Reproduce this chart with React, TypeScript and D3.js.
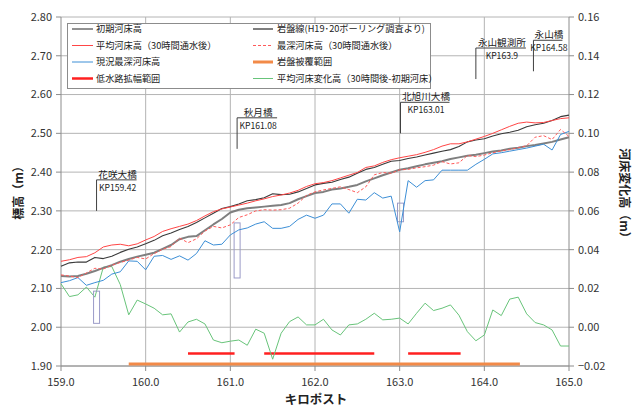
import * as d3 from 'd3';

// kilo posts, every 100 m
const kp = d3.range(0, 61).map((i) => Math.round((159 + i * 0.1) * 10) / 10);

// 初期河床高
const initialBed = [
  2.157, 2.166, 2.168, 2.168, 2.18, 2.177, 2.183, 2.193, 2.201, 2.207,
  2.215, 2.224, 2.236, 2.243, 2.252, 2.26, 2.27, 2.282, 2.294, 2.306,
  2.311, 2.318, 2.326, 2.329, 2.334, 2.344, 2.342, 2.343, 2.349, 2.358,
  2.367, 2.371, 2.374, 2.381, 2.387, 2.397, 2.407, 2.412, 2.42, 2.428,
  2.43, 2.435, 2.439, 2.444, 2.449, 2.454, 2.458, 2.466, 2.478, 2.483,
  2.486, 2.493, 2.499, 2.503, 2.508, 2.517, 2.522, 2.526, 2.533, 2.543,
  2.547,
];
// 平均河床高（30時間通水後）
const meanBed = [
  2.17, 2.174, 2.18, 2.182, 2.192, 2.207, 2.212, 2.214, 2.21, 2.215,
  2.225, 2.234, 2.247, 2.254, 2.26, 2.266, 2.275, 2.287, 2.298, 2.305,
  2.31, 2.315, 2.32, 2.326, 2.331, 2.337, 2.341, 2.346, 2.353, 2.363,
  2.37, 2.373, 2.378, 2.385, 2.392, 2.399, 2.412, 2.416, 2.425, 2.432,
  2.437, 2.441, 2.445, 2.451, 2.458, 2.467, 2.473, 2.473, 2.478, 2.485,
  2.492, 2.5, 2.509, 2.518, 2.526, 2.529, 2.527, 2.528, 2.533, 2.538,
  2.54,
];
// 岩盤線
const bedrock = [
  2.132, 2.131, 2.132, 2.138, 2.145, 2.153, 2.16, 2.169, 2.176, 2.182,
  2.187, 2.192, 2.202, 2.212, 2.227, 2.233, 2.235, 2.25, 2.265, 2.279,
  2.296, 2.303, 2.307, 2.309, 2.311, 2.313, 2.315, 2.32, 2.33, 2.338,
  2.346, 2.349, 2.355, 2.358, 2.362, 2.367, 2.376, 2.384, 2.392, 2.399,
  2.406, 2.41, 2.415, 2.42, 2.424, 2.428, 2.434, 2.438, 2.442, 2.445,
  2.449, 2.453, 2.456, 2.46, 2.463, 2.467, 2.47, 2.474, 2.478, 2.484,
  2.49,
];
// 最深河床高（30時間通水後）
const deepestBed = [
  2.135, 2.132, 2.128, 2.14, 2.152, 2.15, 2.16, 2.167, 2.173, 2.18,
  2.176, 2.19, 2.201, 2.208, 2.23, 2.218, 2.228, 2.248, 2.26, 2.256,
  2.264, 2.283, 2.29, 2.3, 2.303, 2.302, 2.303, 2.307, 2.32, 2.34,
  2.349, 2.354, 2.358, 2.362, 2.355, 2.347, 2.362, 2.393, 2.399, 2.397,
  2.406, 2.407, 2.411, 2.414, 2.418, 2.427, 2.421, 2.424, 2.443, 2.44,
  2.444, 2.45, 2.455, 2.458, 2.463, 2.468, 2.49, 2.494, 2.484, 2.51,
  2.492,
];
// 現況最深河床高
const currentDeepest = [
  2.115, 2.12, 2.128, 2.108, 2.115, 2.121, 2.137, 2.143, 2.171, 2.17,
  2.148, 2.183, 2.185, 2.175, 2.184, 2.173, 2.19, 2.223, 2.212, 2.214,
  2.238, 2.251, 2.256, 2.266, 2.272, 2.255, 2.255, 2.26, 2.278, 2.289,
  2.281, 2.289, 2.318, 2.318, 2.294, 2.33, 2.328, 2.347, 2.333, 2.338,
  2.246, 2.378, 2.361, 2.378, 2.38, 2.405, 2.405, 2.405, 2.405, 2.42,
  2.433, 2.447, 2.45, 2.454, 2.458, 2.462, 2.467, 2.472, 2.457, 2.497,
  2.505,
];
// 平均河床変化高（30時間後-初期河床）  right axis
const bedChange = [
  0.0224, 0.0158, 0.0167, 0.0207, 0.0155, 0.031, 0.0313, 0.022, 0.0064, 0.014,
  0.012, 0.0098, 0.0064, 0.0069, -0.0025, 0.0027, 0.0041, 0.0017, -0.0066, -0.008,
  -0.0072, -0.0066, -0.0093, -0.001, -0.0031, -0.0165, -0.0031, 0.0029, 0.0053, 0.0012,
  0.0012, 0.0041, -0.0014, -0.004, 0.0012, 0.0017, 0.0041, 0.0072, 0.0038, 0.0041,
  0.0047, 0.0017, 0.0072, 0.0124, 0.0086, 0.0098, 0.0115, 0.0062, -0.0023, -0.007,
  -0.004, 0.0089, 0.006, 0.0145, 0.0155, 0.0069, 0.0024, 0.0012, -0.0014, -0.0097,
  -0.0097,
];

// 低水路拡幅範囲 / 岩盤被覆範囲
const widenRanges = [[160.5, 161.05], [161.4, 162.7], [163.1, 163.72]];
const widenLevel = 1.932;
const coverRanges = [[159.8, 164.42]];
const coverLevel = 1.905;

// bridges / station
const siteNames = ['花咲大橋', '秋月橋', '北旭川大橋', '永山観測所', '永山橋'];
const siteKp = [159.42, 161.08, 163.01, 163.9, 164.58];
const siteKpLabels = ['KP159.42', 'KP161.08', 'KP163.01', 'KP163.9', 'KP164.58'];
const siteBase = [2.3, 2.46, 2.5, 2.64, 2.66];

// pier boxes
const pierKp = [159.42, 161.08, 163.01];
const pierTop = [2.093, 2.269, 2.32];
const pierBottom = [2.01, 2.127, 2.272];

const legendLeft = ['初期河床高', '平均河床高（30時間通水後）', '現況最深河床高', '低水路拡幅範囲'];
const legendRight = ['岩盤線(H19･20ボーリング調査より)', '最深河床高（30時間通水後）', '岩盤被覆範囲', '平均河床変化高（30時間後-初期河床）'];

const FONT = '"Noto Sans CJK JP", "Noto Sans", sans-serif';
const GRID = '#b4b4b4';
const AXIS = '#8c8c8c';

const sty = {
  initial: { stroke: '#3a3a3a', width: 1.1, dash: undefined as string | undefined },
  mean: { stroke: '#ff4646', width: 1, dash: undefined },
  current: { stroke: '#3d8fd6', width: 1, dash: undefined },
  widen: { stroke: '#ff2020', width: 2.5, dash: undefined },
  rock: { stroke: '#7f7f7f', width: 2, dash: undefined },
  deepest: { stroke: '#ff5a5a', width: 1, dash: '3,2' },
  cover: { stroke: '#f28a48', width: 3, dash: undefined },
  change: { stroke: '#68c47a', width: 1, dash: undefined },
};
const leftStyles = [sty.initial, sty.mean, sty.current, sty.widen];
const rightStyles = [sty.rock, sty.deepest, sty.cover, sty.change];
const leaderWidth = [40, 40, 49, 50, 29];

export default function App() {
  const x = d3.scaleLinear().domain([159, 165]).range([61, 569]);
  const yL = d3.scaleLinear().domain([1.9, 2.8]).range([366, 17]);
  const yR = d3.scaleLinear().domain([-0.02, 0.16]).range([366, 17]);

  const lineL = d3
    .line<number>()
    .x((_, i) => x(kp[i]))
    .y((d) => yL(d));
  const lineR = d3
    .line<number>()
    .x((_, i) => x(kp[i]))
    .y((d) => yR(d));

  const leftTicks = yL.ticks(9);
  const rightTicks = yR.ticks(9);
  const xTicks = x.ticks(6);
  const [x0, x1] = x.range();
  const [yB, yT] = yL.range();

  const seriesL = [
    { d: bedrock, s: sty.rock },
    { d: currentDeepest, s: sty.current },
    { d: deepestBed, s: sty.deepest },
    { d: initialBed, s: sty.initial },
    { d: meanBed, s: sty.mean },
  ];

  return (
    <svg
      width={636}
      height={408}
      style={{ position: 'absolute', left: 0, top: 0, background: '#fff' }}
      fontFamily={FONT}
    >
      {/* grid */}
      {leftTicks.map((t) => (
        <line key={'h' + t} x1={x0} x2={x1} y1={yL(t)} y2={yL(t)} stroke={GRID} />
      ))}
      {xTicks.slice(1, -1).map((t) => (
        <line key={'v' + t} x1={x(t)} x2={x(t)} y1={yT} y2={yB} stroke={GRID} />
      ))}

      {/* axes */}
      <line x1={x0} x2={x0} y1={yT} y2={yB} stroke={AXIS} />
      <line x1={x1} x2={x1} y1={yT} y2={yB} stroke={AXIS} />
      <line x1={x0} x2={x1} y1={yB} y2={yB} stroke={AXIS} />
      {leftTicks.map((t) => (
        <g key={'lt' + t}>
          <line x1={x0 - 5} x2={x0} y1={yL(t)} y2={yL(t)} stroke={AXIS} />
          <text x={x0 - 9} y={yL(t)} dy="0.35em" textAnchor="end" fontSize={11} fill="#333">
            {d3.format('.2f')(t)}
          </text>
        </g>
      ))}
      {rightTicks.map((t) => (
        <g key={'rt' + t}>
          <line x1={x1} x2={x1 + 5} y1={yR(t)} y2={yR(t)} stroke={AXIS} />
          <text x={x1 + 9} y={yR(t)} dy="0.35em" textAnchor="start" fontSize={11} fill="#333">
            {d3.format('.2f')(t)}
          </text>
        </g>
      ))}
      {xTicks.map((t) => (
        <g key={'xt' + t}>
          <line x1={x(t)} x2={x(t)} y1={yB} y2={yB + 5} stroke={AXIS} />
          <text x={x(t)} y={yB + 20} textAnchor="middle" fontSize={11} fill="#333">
            {d3.format('.1f')(t)}
          </text>
        </g>
      ))}

      {/* axis titles */}
      <text
        transform="translate(23,190) rotate(-90)"
        textAnchor="middle"
        fontSize={12}
        fontWeight="bold"
        fill="#222"
      >
        標高（m）
      </text>
      <text
        transform="translate(620,196) rotate(90)"
        textAnchor="middle"
        fontSize={12}
        fontWeight="bold"
        fill="#222"
      >
        河床変化高（m）
      </text>
      <text x={316} y={404} textAnchor="middle" fontSize={12.5} fontWeight="bold" fill="#222">
        キロポスト
      </text>

      {/* ranges */}
      {coverRanges.map(([a, b]) => (
        <line
          key={'c' + a}
          x1={x(a)}
          x2={x(b)}
          y1={yL(coverLevel)}
          y2={yL(coverLevel)}
          stroke={sty.cover.stroke}
          strokeWidth={sty.cover.width}
        />
      ))}
      {widenRanges.map(([a, b]) => (
        <line
          key={'w' + a}
          x1={x(a)}
          x2={x(b)}
          y1={yL(widenLevel)}
          y2={yL(widenLevel)}
          stroke={sty.widen.stroke}
          strokeWidth={sty.widen.width}
        />
      ))}

      {/* bed change (right axis) */}
      <path
        d={lineR(bedChange) || ''}
        fill="none"
        stroke={sty.change.stroke}
        strokeWidth={sty.change.width}
        strokeLinejoin="round"
      />

      {/* pier boxes */}
      {pierKp.map((k, i) => (
        <rect
          key={'p' + k}
          x={x(k) - 3}
          y={yL(pierTop[i])}
          width={6}
          height={yL(pierBottom[i]) - yL(pierTop[i])}
          fill="none"
          stroke="#9b9bc8"
          strokeWidth={1}
        />
      ))}

      {/* elevation lines */}
      {seriesL.map(({ d, s }, i) => (
        <path
          key={'s' + i}
          d={lineL(d) || ''}
          fill="none"
          stroke={s.stroke}
          strokeWidth={s.width}
          strokeDasharray={s.dash}
          strokeLinejoin="round"
        />
      ))}

      {/* site callouts */}
      {siteKp.map((k, i) => {
        const px = x(k);
        const yb = yL(siteBase[i]);
        const yt = yL(siteBase[i] + 0.08);
        const w = leaderWidth[i];
        return (
          <g key={'site' + i}>
            <line x1={px} x2={px} y1={yb} y2={yt} stroke="#404040" />
            <line x1={px} x2={px + w} y1={yt} y2={yt} stroke="#404040" />
            <text x={px + w / 2 + 1} y={yt - 2} textAnchor="middle" fontSize={9.6} fill="#222">
              {siteNames[i]}
            </text>
            <text x={px + w / 2 + 1} y={yt + 11} textAnchor="middle" fontSize={8.6} fill="#222">
              {siteKpLabels[i]}
            </text>
          </g>
        );
      })}

      {/* legend */}
      <rect x={67.5} y={23.5} width={363} height={65} fill="#fff" stroke="#8c8c8c" />
      {legendLeft.map((t, i) => {
        const yy = 29 + i * 16.5;
        const s = leftStyles[i];
        return (
          <g key={'ll' + i}>
            <line x1={72} x2={93} y1={yy} y2={yy} stroke={s.stroke} strokeWidth={s.width} strokeDasharray={s.dash} />
            <text x={96} y={yy} dy="0.36em" fontSize={9.2} fill="#222">
              {t}
            </text>
          </g>
        );
      })}
      {legendRight.map((t, i) => {
        const yy = 29 + i * 16.5;
        const s = rightStyles[i];
        return (
          <g key={'lr' + i}>
            <line x1={253} x2={273} y1={yy} y2={yy} stroke={s.stroke} strokeWidth={s.width} strokeDasharray={s.dash} />
            <text x={277} y={yy} dy="0.36em" fontSize={9.2} fill="#222">
              {t}
            </text>
          </g>
        );
      })}
    </svg>
  );
}
